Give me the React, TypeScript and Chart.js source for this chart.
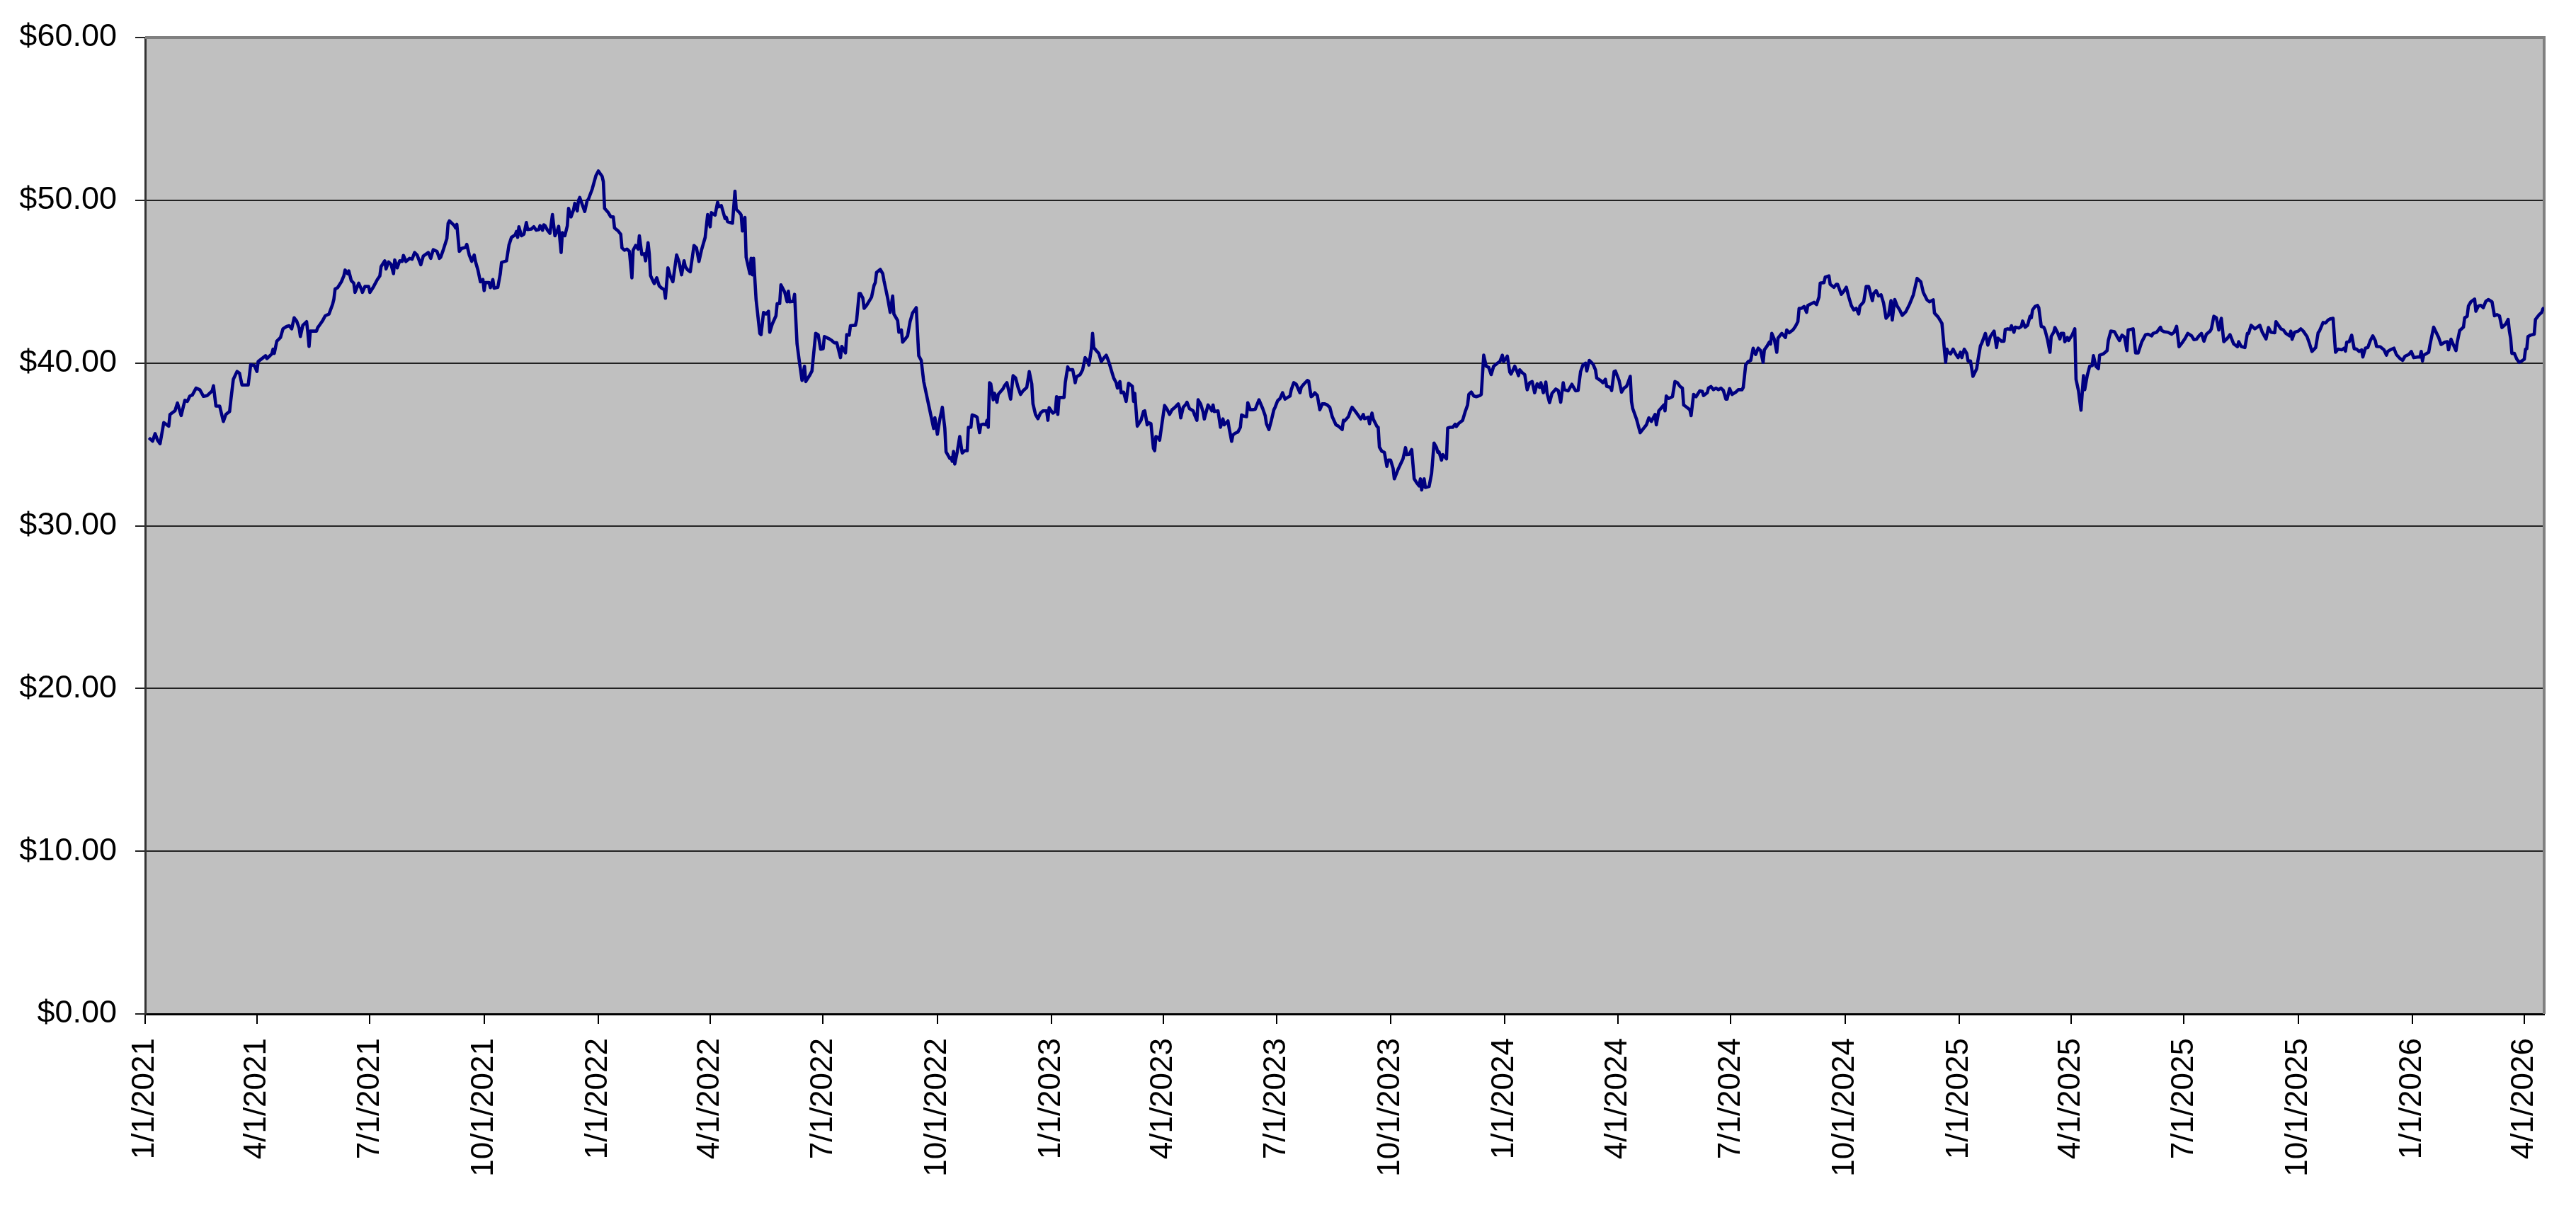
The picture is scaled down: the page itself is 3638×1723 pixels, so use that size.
import { useEffect, useRef } from "react";
import { Chart, registerables } from "chart.js";

Chart.register(...registerables);

// Trading-day offsets (days since 1/1/2021) and closing prices
const days: number[] = [
  3, 6, 8, 10, 12, 15, 19, 20, 24, 26,
  29, 32, 34, 36, 38, 41, 44, 47, 50, 54,
  55, 57, 60, 63, 65, 68, 69, 71, 74, 76,
  78, 83, 85, 88, 90, 91, 97, 98, 102, 103,
  104, 106, 109, 111, 114, 116, 118, 120, 122, 124,
  125, 127, 130, 131, 132, 133, 138, 139, 141, 143,
  145, 148, 151, 152, 153, 155, 158, 160, 161, 163,
  164, 166, 168, 169, 172, 174, 175, 177, 180, 181,
  184, 187, 189, 190, 193, 194, 196, 198, 200, 201,
  203, 205, 207, 208, 210, 213, 215, 217, 219, 222,
  224, 228, 230, 232, 235, 237, 238, 240, 243, 244,
  245, 249, 250, 251, 253, 255, 258, 259, 261, 263,
  265, 266, 268, 270, 272, 273, 274, 277, 278, 280,
  281, 284, 286, 287, 291, 293, 295, 298, 299, 300,
  301, 303, 305, 307, 308, 311, 313, 315, 317, 318,
  320, 321, 322, 324, 326, 328, 330, 332, 333, 335,
  336, 338, 340, 341, 343, 345, 346, 348, 349, 350,
  354, 356, 357, 360, 363, 365, 368, 369, 370, 373,
  375, 377, 378, 381, 383, 384, 386, 388, 390, 392,
  393, 395, 397, 398, 400, 402, 403, 405, 406, 407,
  409, 410, 412, 414, 416, 418, 419, 421, 423, 425,
  428, 430, 432, 434, 435, 437, 439, 442, 444, 446,
  448, 451, 453, 455, 456, 459, 461, 462, 464, 467,
  468, 469, 473, 475, 476, 479, 480, 481, 483, 484,
  487, 488, 489, 490, 492, 495, 496, 498, 500, 502,
  503, 505, 508, 509, 511, 512, 515, 517, 518, 519,
  522, 523, 525, 527, 529, 531, 532, 535, 537, 540,
  542, 544, 546, 547, 551, 553, 555, 557, 560, 561,
  564, 565, 567, 568, 572, 573, 575, 576, 578, 579,
  581, 585, 587, 588, 589, 592, 594, 595, 598, 600,
  602, 603, 606, 607, 609, 610, 612, 614, 616, 618,
  621, 622, 623, 625, 627, 629, 631, 633, 635, 636,
  638, 640, 642, 644, 645, 648, 649, 650, 651, 652,
  654, 656, 658, 660, 662, 663, 665, 666, 669, 670,
  672, 673, 675, 677, 678, 679, 680, 681, 683, 684,
  686, 687, 691, 692, 694, 697, 699, 701, 703, 705,
  707, 709, 710, 712, 714, 715, 717, 719, 721, 723,
  726, 727, 728, 731, 733, 734, 735, 736, 740, 741,
  743, 744, 747, 749, 750, 753, 755, 757, 759, 760,
  762, 763, 764, 766, 768, 770, 772, 774, 776, 778,
  780, 782, 783, 785, 786, 788, 790, 792, 795, 796,
  797, 799, 802, 804, 805, 807, 808, 810, 812, 813,
  814, 816, 817, 819, 821, 823, 825, 827, 829, 832,
  833, 834, 836, 838, 839, 841, 844, 845, 847, 848,
  850, 852, 853, 856, 858, 859, 860, 861, 864, 866,
  868, 869, 872, 873, 875, 876, 878, 880, 882, 883,
  885, 887, 888, 890, 892, 894, 897, 900, 902, 903,
  905, 907, 909, 910, 912, 914, 916, 918, 920, 922,
  923, 925, 927, 930, 931, 933, 936, 937, 939, 940,
  942, 944, 946, 948, 950, 952, 954, 956, 959, 961,
  964, 965, 966, 969, 971, 972, 975, 979, 981, 982,
  985, 986, 988, 989, 992, 993, 994, 996, 998, 1000,
  1001, 1003, 1005, 1006, 1009, 1013, 1015, 1016, 1018, 1020,
  1022, 1024, 1026, 1027, 1028, 1030, 1031, 1034, 1036, 1038,
  1040, 1041, 1042, 1044, 1045, 1048, 1049, 1051, 1053, 1055,
  1056, 1058, 1061, 1063, 1065, 1066, 1068, 1070, 1072, 1075,
  1076, 1078, 1080, 1082, 1084, 1086, 1089, 1091, 1093, 1094,
  1096, 1097, 1099, 1100, 1103, 1105, 1106, 1107, 1109, 1111,
  1113, 1115, 1117, 1119, 1121, 1123, 1124, 1126, 1128, 1129,
  1131, 1133, 1136, 1138, 1140, 1142, 1143, 1146, 1149, 1152,
  1154, 1156, 1158, 1160, 1161, 1163, 1166, 1168, 1169, 1172,
  1174, 1176, 1177, 1180, 1181, 1183, 1184, 1187, 1189, 1191,
  1193, 1194, 1196, 1197, 1198, 1201, 1204, 1206, 1209, 1211,
  1213, 1216, 1217, 1219, 1223, 1224, 1225, 1227, 1230, 1232,
  1234, 1236, 1238, 1239, 1241, 1244, 1245, 1247, 1249, 1252,
  1254, 1255, 1258, 1259, 1261, 1263, 1265, 1267, 1269, 1271,
  1273, 1274, 1276, 1278, 1281, 1283, 1286, 1287, 1289, 1291,
  1293, 1295, 1297, 1299, 1301, 1303, 1304, 1306, 1308, 1309,
  1310, 1312, 1314, 1315, 1318, 1321, 1322, 1324, 1327, 1329,
  1331, 1332, 1334, 1336, 1338, 1339, 1342, 1344, 1346, 1348,
  1349, 1352, 1353, 1356, 1357, 1360, 1362, 1363, 1366, 1368,
  1370, 1372, 1374, 1376, 1378, 1380, 1381, 1384, 1386, 1388,
  1391, 1392, 1394, 1396, 1398, 1400, 1402, 1404, 1406, 1407,
  1409, 1411, 1413, 1415, 1418, 1420, 1421, 1424, 1427, 1430,
  1432, 1435, 1437, 1440, 1441, 1444, 1447, 1449, 1450, 1451,
  1452, 1454, 1456, 1458, 1460, 1462, 1463, 1465, 1467, 1468,
  1470, 1472, 1475, 1476, 1478, 1479, 1482, 1484, 1486, 1489,
  1491, 1492, 1495, 1497, 1498, 1500, 1502, 1503, 1505, 1506,
  1509, 1511, 1512, 1514, 1516, 1518, 1519, 1520, 1522, 1524,
  1525, 1527, 1529, 1530, 1532, 1534, 1535, 1537, 1538, 1540,
  1542, 1543, 1545, 1546, 1548, 1549, 1552, 1554, 1555, 1557,
  1559, 1561, 1562, 1564, 1566, 1568, 1569, 1571, 1573, 1574,
  1577, 1580, 1581, 1583, 1586, 1588, 1590, 1592, 1594, 1596,
  1597, 1601, 1603, 1605, 1608, 1611, 1613, 1616, 1617, 1620,
  1623, 1624, 1626, 1629, 1632, 1634, 1636, 1638, 1641, 1643,
  1645, 1648, 1650, 1652, 1654, 1656, 1658, 1660, 1663, 1664,
  1666, 1668, 1670, 1672, 1674, 1677, 1679, 1682, 1685, 1686,
  1688, 1691, 1693, 1694, 1696, 1699, 1700, 1703, 1705, 1708,
  1710, 1712, 1715, 1716, 1718, 1720, 1722, 1724, 1727, 1728,
  1729, 1731, 1734, 1736, 1738, 1741, 1743, 1745, 1748, 1750,
  1751, 1754, 1756, 1758, 1760, 1762, 1764, 1766, 1769, 1771,
  1772, 1773, 1775, 1777, 1779, 1781, 1783, 1785, 1786, 1788,
  1790, 1792, 1794, 1796, 1797, 1800, 1803, 1805, 1806, 1808,
  1811, 1813, 1816, 1818, 1820, 1823, 1825, 1827, 1830, 1832,
  1833, 1834, 1835, 1839, 1840, 1843, 1845, 1847, 1849, 1852,
  1854, 1855, 1857, 1859, 1861, 1862, 1864, 1867, 1868, 1870,
  1871, 1873, 1876, 1877, 1879, 1881, 1883, 1885, 1887, 1890,
  1892, 1894, 1896, 1898, 1901, 1903, 1904, 1905, 1906, 1908,
  1910, 1912, 1914, 1916, 1917, 1918, 1919, 1921, 1924, 1925,
  1928, 1930, 1931, 1932,
];

const prices: number[] = [
  35.40, 35.20, 35.66, 35.26, 35.04, 36.34, 36.12, 36.84, 37.06, 37.54,
  36.77, 37.71, 37.64, 37.97, 38.03, 38.46, 38.36, 37.95, 38.00, 38.29,
  38.60, 37.35, 37.35, 36.41, 36.84, 37.02, 37.71, 39.00, 39.48, 39.37,
  38.65, 38.65, 39.90, 39.84, 39.48, 40.09, 40.45, 40.27, 40.56, 40.85,
  40.59, 41.34, 41.57, 42.10, 42.25, 42.29, 42.10, 42.78, 42.58, 42.15,
  41.63, 42.32, 42.54, 41.89, 41.02, 41.96, 41.96, 42.18, 42.39, 42.61,
  42.90, 43.00, 43.62, 43.93, 44.55, 44.63, 44.99, 45.35, 45.71, 45.49,
  45.66, 45.06, 44.91, 44.34, 44.91, 44.55, 44.34, 44.70, 44.70, 44.34,
  44.70, 45.13, 45.35, 45.92, 46.28, 45.78, 46.21, 46.07, 45.49, 46.33,
  45.85, 46.28, 46.24, 46.61, 46.24, 46.43, 46.38, 46.79, 46.64, 46.04,
  46.57, 46.79, 46.43, 46.96, 46.86, 46.43, 46.50, 46.93, 47.65, 48.59,
  48.73, 48.44, 48.30, 48.52, 46.86, 47.05, 47.10, 47.29, 46.64, 46.25,
  46.64, 46.24, 45.71, 44.99, 45.13, 44.45, 44.94, 44.94, 44.63, 45.13,
  44.60, 44.65, 45.49, 46.18, 46.28, 47.25, 47.72, 47.87, 48.08, 47.72,
  48.37, 47.82, 47.91, 48.63, 48.20, 48.23, 48.37, 48.16, 48.20, 48.44,
  48.16, 48.49, 48.44, 48.16, 47.97, 49.12, 47.82, 48.16, 48.40, 46.79,
  48.01, 47.82, 48.44, 49.50, 48.98, 49.41, 49.81, 49.35, 49.99, 50.17,
  49.31, 49.99, 50.07, 50.68, 51.51, 51.80, 51.47, 51.14, 49.50, 49.24,
  48.98, 48.98, 48.30, 48.11, 47.91, 47.07, 46.93, 47.00, 46.86, 45.23,
  46.93, 47.22, 47.00, 47.82, 46.67, 46.71, 46.28, 47.39, 46.71, 45.37,
  45.03, 44.88, 45.23, 44.74, 44.60, 44.51, 43.98, 45.85, 45.32, 44.99,
  46.64, 46.21, 45.42, 46.28, 45.92, 45.71, 45.61, 47.22, 47.07, 46.24,
  46.93, 47.72, 49.12, 48.37, 49.24, 49.09, 49.88, 49.60, 49.67, 48.88,
  48.95, 48.69, 48.59, 50.56, 49.45, 49.21, 49.09, 48.11, 48.95, 46.50,
  45.49, 46.43, 45.42, 46.43, 43.90, 41.82, 41.74, 43.11, 43.01, 43.18,
  41.89, 42.39, 42.90, 43.65, 43.65, 44.80, 44.37, 43.76, 44.41, 43.76,
  43.79, 44.22, 41.17, 40.01, 38.93, 39.80, 38.86, 39.22, 39.51, 41.82,
  41.74, 40.85, 40.88, 41.63, 41.48, 41.38, 41.24, 41.24, 40.33, 41.02,
  40.62, 41.74, 41.71, 42.29, 42.32, 42.64, 44.27, 44.27, 43.98, 43.36,
  43.54, 44.05, 44.77, 44.94, 45.56, 45.75, 45.49, 45.06, 43.98, 43.11,
  44.12, 43.01, 42.61, 41.89, 42.03, 41.28, 41.46, 41.67, 42.54, 43.07,
  43.40, 41.89, 40.45, 40.16, 38.86, 38.14, 37.42, 36.70, 35.98, 36.63,
  35.62, 36.56, 37.28, 35.98, 34.54, 34.14, 34.18, 33.96, 34.57, 33.79,
  34.54, 35.48, 34.47, 34.61, 34.61, 36.05, 36.05, 36.81, 36.73, 36.67,
  35.72, 36.20, 36.24, 36.20, 36.48, 36.05, 38.79, 38.72, 37.74, 38.14,
  37.59, 38.07, 38.43, 38.60, 38.79, 37.78, 39.22, 39.08, 38.50, 38.07,
  38.29, 38.43, 38.50, 39.47, 38.72, 37.49, 36.84, 36.58, 36.92, 37.06,
  37.06, 36.48, 37.25, 36.92, 37.02, 37.93, 36.84, 37.88, 37.88, 38.79,
  39.76, 39.59, 39.59, 38.79, 39.15, 39.29, 39.59, 40.33, 40.13, 39.87,
  40.85, 41.82, 40.95, 40.76, 40.59, 40.09, 40.30, 40.48, 40.09, 39.58,
  39.08, 38.79, 38.46, 38.86, 38.17, 38.21, 37.64, 38.75, 38.57, 37.64,
  38.14, 36.12, 36.48, 37.02, 37.06, 36.20, 36.34, 36.27, 34.76, 34.61,
  35.48, 35.40, 35.26, 36.34, 37.39, 37.16, 36.84, 37.13, 37.25, 37.49,
  37.25, 36.63, 37.28, 37.45, 37.59, 37.20, 37.06, 36.84, 36.48, 37.74,
  37.49, 36.99, 36.56, 37.42, 37.20, 37.06, 37.42, 37.02, 37.06, 36.05,
  36.56, 36.20, 36.44, 35.98, 35.19, 35.58, 35.69, 35.76, 36.05, 36.81,
  36.73, 36.70, 37.56, 37.13, 37.13, 37.16, 37.74, 37.20, 36.77, 36.27,
  35.91, 36.48, 37.13, 37.28, 37.68, 37.82, 38.17, 37.78, 37.88, 37.97,
  38.36, 38.79, 38.69, 38.17, 38.50, 38.69, 38.93, 38.89, 37.93, 37.97,
  38.17, 38.00, 37.13, 37.49, 37.49, 37.42, 37.28, 36.70, 36.20, 36.12,
  35.91, 36.48, 36.44, 36.70, 37.13, 37.28, 36.99, 36.56, 36.84, 36.58,
  36.67, 36.27, 36.92, 36.56, 36.10, 36.05, 34.83, 34.57, 34.51, 33.65,
  34.03, 34.03, 33.53, 32.88, 33.46, 34.11, 34.80, 34.37, 34.39, 34.68,
  32.88, 32.64, 32.45, 32.88, 32.20, 32.88, 32.35, 32.41, 33.21, 35.08,
  34.80, 34.51, 34.54, 34.03, 34.37, 34.11, 36.01, 36.05, 36.05, 36.24,
  36.10, 36.30, 36.48, 36.99, 37.42, 38.07, 38.21, 37.97, 37.93, 38.00,
  38.07, 40.48, 39.80, 39.73, 39.29, 39.80, 39.99, 40.09, 40.48, 40.09,
  40.30, 40.42, 39.44, 39.32, 39.80, 39.44, 39.22, 39.58, 39.41, 39.29,
  38.36, 38.79, 38.86, 38.17, 38.72, 38.50, 38.79, 38.17, 38.83, 38.14,
  37.56, 38.14, 38.40, 38.31, 37.59, 38.79, 38.36, 38.29, 38.69, 38.29,
  38.31, 39.47, 39.90, 39.99, 39.51, 40.16, 39.94, 39.58, 39.08, 38.93,
  38.79, 39.00, 38.57, 38.50, 38.31, 39.47, 39.51, 38.93, 38.21, 38.46,
  38.57, 38.75, 39.18, 37.64, 37.20, 36.56, 35.72, 35.91, 36.20, 36.63,
  36.41, 36.84, 36.20, 37.06, 37.42, 37.06, 37.97, 37.82, 37.93, 38.86,
  38.79, 38.57, 38.46, 37.42, 37.31, 37.13, 36.77, 38.07, 37.93, 38.29,
  38.26, 38.00, 38.17, 38.46, 38.55, 38.36, 38.46, 38.36, 38.46, 38.31,
  37.78, 37.78, 38.43, 38.07, 38.21, 38.36, 38.36, 38.50, 39.90, 40.09,
  40.16, 40.91, 40.52, 40.91, 40.76, 40.04, 40.81, 41.02, 41.28, 41.17,
  41.82, 41.46, 40.66, 41.53, 41.82, 41.57, 42.03, 41.86, 42.03, 42.25,
  42.54, 43.36, 43.36, 43.47, 43.11, 43.54, 43.65, 43.73, 43.59, 44.05,
  44.91, 44.94, 45.27, 45.35, 44.84, 44.65, 44.84, 44.84, 44.22, 44.41,
  44.65, 44.05, 43.54, 43.26, 43.36, 43.01, 43.50, 43.76, 44.70, 44.70,
  43.83, 44.27, 44.45, 44.12, 44.19, 43.69, 42.75, 42.93, 43.83, 42.64,
  43.90, 43.50, 43.26, 42.93, 43.16, 43.47, 43.62, 44.19, 45.20, 44.99,
  44.34, 43.88, 43.76, 43.88, 43.07, 42.82, 42.44, 40.81, 40.04, 40.85,
  40.66, 40.56, 40.85, 40.56, 40.33, 40.66, 40.33, 40.85, 40.59, 40.13,
  40.13, 39.18, 39.65, 40.16, 41.05, 41.20, 41.82, 41.10, 41.63, 41.96,
  40.95, 41.53, 41.34, 41.34, 42.06, 42.10, 42.06, 42.29, 41.89, 42.20,
  42.15, 42.25, 42.58, 42.20, 42.32, 42.87, 42.78, 43.26, 43.47, 43.54,
  43.40, 42.25, 42.20, 42.03, 41.45, 40.66, 41.63, 41.89, 42.18, 41.89,
  41.48, 41.82, 41.82, 41.31, 41.57, 41.38, 41.74, 42.10, 39.00, 38.29,
  37.10, 39.22, 38.36, 39.22, 39.80, 39.84, 40.45, 39.80, 39.65, 40.48,
  40.56, 40.76, 41.38, 41.96, 41.92, 41.63, 41.38, 41.71, 41.60, 40.76,
  42.03, 42.10, 40.62, 40.62, 41.31, 41.74, 41.77, 41.67, 41.82, 41.89,
  42.20, 42.00, 41.92, 41.89, 41.77, 41.89, 42.25, 41.00, 41.30, 41.53,
  41.82, 41.67, 41.43, 41.46, 41.67, 41.82, 41.34, 41.77, 41.96, 42.10,
  42.87, 42.78, 42.03, 42.75, 41.31, 41.53, 41.74, 41.17, 41.00, 41.31,
  41.02, 40.95, 41.82, 41.82, 42.32, 42.10, 42.15, 42.32, 41.89, 41.48,
  42.18, 41.89, 41.86, 42.54, 42.32, 42.10, 42.03, 41.82, 41.67, 41.96,
  41.46, 41.89, 41.96, 42.10, 41.96, 41.63, 41.20, 40.71, 40.95, 41.86,
  41.96, 42.49, 42.46, 42.64, 42.72, 42.75, 40.66, 40.85, 40.81, 40.91,
  40.73, 41.28, 41.31, 41.71, 40.88, 40.85, 40.71, 40.81, 40.37, 40.91,
  40.95, 41.38, 41.67, 41.38, 41.02, 41.00, 40.81, 40.48, 40.71, 40.81,
  40.91, 40.52, 40.27, 40.16, 40.42, 40.52, 40.71, 40.33, 40.37, 40.37,
  40.71, 40.13, 40.48, 40.66, 41.10, 42.20, 41.89, 41.57, 41.14, 41.28,
  41.31, 40.81, 41.46, 41.10, 40.76, 41.28, 42.00, 42.20, 42.78, 42.87,
  43.50, 43.76, 43.93, 43.18, 43.50, 43.54, 43.40, 43.79, 43.90, 43.76,
  42.90, 42.97, 42.90, 42.18, 42.39, 42.68, 41.96, 41.53, 40.59, 40.59,
  40.23, 40.04, 40.13, 40.23, 40.85, 40.88, 41.63, 41.71, 41.77, 42.68,
  42.97, 43.11, 43.33, 43.40,
];

const startDate = "1/1/2021";
const endDate = "4/17/2026";
const tickLabels: string[] = [
  "1/1/2021", "4/1/2021", "7/1/2021", "10/1/2021",
  "1/1/2022", "4/1/2022", "7/1/2022", "10/1/2022",
  "1/1/2023", "4/1/2023", "7/1/2023", "10/1/2023",
  "1/1/2024", "4/1/2024", "7/1/2024", "10/1/2024",
  "1/1/2025", "4/1/2025", "7/1/2025", "10/1/2025",
  "1/1/2026", "4/1/2026",
];
const yMin = 0;
const yMax = 60;
const yStep = 10;

function parseUS(s: string): number {
  const [m, d, y] = s.split("/").map(Number);
  return Date.UTC(y, m - 1, d);
}
function dayOffset(s: string): number {
  return Math.round((parseUS(s) - parseUS(startDate)) / 86400000);
}

const FONT = '"Liberation Sans", Arial, Helvetica, sans-serif';

const plotFrame = {
  id: "plotFrame",
  beforeDraw(chart: any) {
    const { ctx, chartArea } = chart;
    if (!chartArea) return;
    ctx.save();
    ctx.fillStyle = "#ffffff";
    ctx.fillRect(0, 0, chart.width, chart.height);
    ctx.fillStyle = "#c0c0c0";
    ctx.fillRect(chartArea.left, chartArea.top, chartArea.right - chartArea.left, chartArea.bottom - chartArea.top);
    ctx.restore();
  },
  beforeDatasetsDraw(chart: any) {
    const { ctx, chartArea } = chart;
    ctx.save();
    ctx.strokeStyle = "#808080";
    ctx.lineWidth = 4;
    ctx.beginPath();
    ctx.moveTo(chartArea.left, chartArea.top);
    ctx.lineTo(chartArea.right, chartArea.top);
    ctx.lineTo(chartArea.right, chartArea.bottom);
    ctx.stroke();
    ctx.restore();
  },
};

export default function App() {
  const canvasRef = useRef<HTMLCanvasElement | null>(null);

  useEffect(() => {
    const canvas = canvasRef.current;
    if (!canvas) return;
    const n = Math.min(days.length, prices.length);
    const points = [];
    for (let i = 0; i < n; i++) points.push({ x: days[i], y: prices[i] });
    const tickDays = tickLabels.map(dayOffset);

    const chart = new Chart(canvas, {
      type: "line",
      data: {
        datasets: [
          {
            data: points,
            borderColor: "#000080",
            borderWidth: 4.6,
            pointRadius: 0,
            tension: 0,
            fill: false,
            borderJoinStyle: "round",
          },
        ],
      },
      plugins: [plotFrame],
      options: {
        animation: false,
        responsive: false,
        parsing: false,
        layout: { padding: { top: 44, right: 28, left: 0, bottom: 0 } },
        plugins: {
          legend: { display: false },
          tooltip: { enabled: false },
          title: { display: false },
        },
        scales: {
          x: {
            type: "linear",
            min: 0,
            max: dayOffset(endDate),
            afterBuildTicks: (scale: any) => {
              scale.ticks = tickDays.map((v) => ({ value: v }));
            },
            afterFit: (scale: any) => {
              scale.height = 291;
            },
            ticks: {
              autoSkip: false,
              maxRotation: 90,
              minRotation: 90,
              padding: 20,
              color: "#000000",
              font: { family: FONT, size: 44 },
              callback: (_v: any, i: number) => tickLabels[i],
            },
            grid: {
              drawOnChartArea: false,
              drawTicks: true,
              tickLength: 14,
              color: "#000000",
              lineWidth: 2,
            },
            border: { display: true, color: "#000000", width: 3 },
          },
          y: {
            min: yMin,
            max: yMax,
            afterFit: (scale: any) => {
              scale.width = 205;
            },
            ticks: {
              stepSize: yStep,
              padding: 26,
              color: "#000000",
              font: { family: FONT, size: 45 },
              callback: (v: any) => "$" + Number(v).toFixed(2),
            },
            grid: {
              color: "#222222",
              lineWidth: 2,
              tickLength: 14,
            },
            border: { display: true, color: "#333333", width: 3 },
          },
        },
      },
    } as any);

    return () => chart.destroy();
  }, []);

  return (
    <div style={{ position: "fixed", left: 0, top: 0, width: "3638px", height: "1723px", background: "#ffffff" }}>
      <canvas ref={canvasRef} width={3638} height={1723} />
    </div>
  );
}
